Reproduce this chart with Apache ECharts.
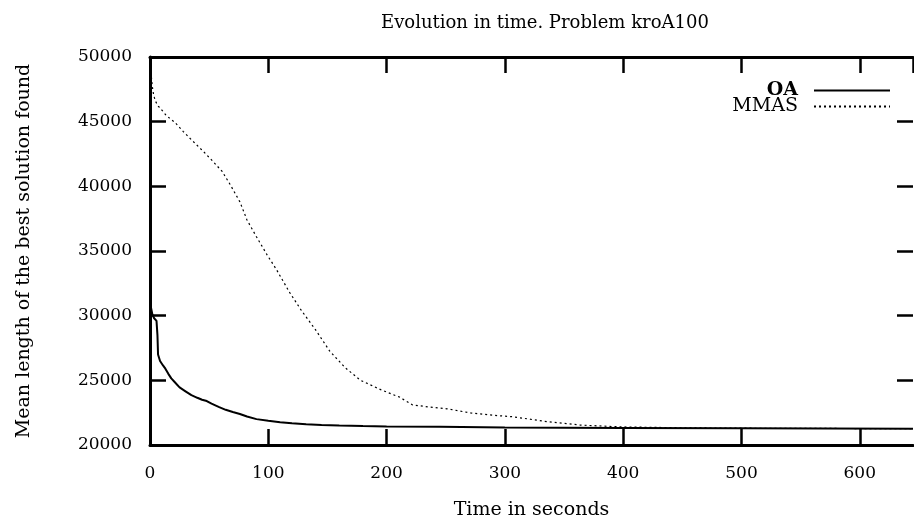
<!DOCTYPE html>
<html>
<head>
<meta charset="utf-8">
<script src="https://cdn.jsdelivr.net/npm/echarts@6/dist/echarts.min.js"></script>
<style>
    html, body { margin: 0; padding: 0; background: #fff; }
    #chart1 { width: 914px; height: 525px; }
</style>
</head>
<body>
<div id="chart1"></div>
<script>
/* kroA100 evolution chart */

var seriesNames = ['OA', 'MMAS'];

// [time in seconds, mean best length]
var oaData = [
    [0, 31000], [2, 30100], [3.5, 29800], [5.5, 29600], [6.3, 28500], [6.8, 27000],
    [8.5, 26500], [11, 26150], [13, 25900], [15.5, 25500], [18, 25150], [21, 24850],
    [25, 24450], [30, 24150], [35, 23850], [40, 23650], [44, 23500], [48, 23400],
    [52, 23200], [58, 22950], [64, 22720], [70, 22550], [76, 22400], [82, 22200],
    [90, 22000], [100, 21870], [110, 21760], [120, 21680], [132, 21610], [145, 21540],
    [160, 21500], [180, 21460], [200, 21440], [245, 21410], [300, 21360], [400, 21320],
    [500, 21290], [645, 21260]
];

var mmasData = [
    [0, 49600], [1, 48600], [2, 47700], [3, 47100], [4.5, 46600], [7, 46200],
    [10, 45900], [14, 45450], [21, 44950], [28, 44250], [35, 43600], [44, 42800],
    [52, 42050], [61, 41150], [68, 40100], [76, 38800], [82, 37400], [90, 36100],
    [99, 34700], [107, 33550], [118, 31800], [128, 30400], [140, 28900], [152, 27250],
    [165, 25980], [178, 25000], [195, 24280], [211, 23700], [222, 23100], [235, 22950],
    [251, 22800], [271, 22480], [290, 22300], [307, 22180], [336, 21800], [364, 21540],
    [398, 21400], [450, 21330], [500, 21300], [645, 21260]
];

var xMin = 0, xMax = 645, xStep = 100;
var yMin = 20000, yMax = 50000, yStep = 5000;

var font = 'DejaVu Serif';

var Lchart = echarts.init(document.getElementById('chart1'));

function frameAxis(pos, showLabel, extra) {
    var ax = {
        type: 'value',
        position: pos,
        axisLine: { show: true, onZero: false, lineStyle: { color: '#000', width: 3 } },
        axisTick: { show: true, inside: true, length: 16, lineStyle: { color: '#000', width: 2.5 } },
        axisLabel: {
            show: showLabel, color: '#000', fontFamily: font, fontSize: 17, margin: 20,
            formatter: function (v) { return String(v); }
        },
        splitLine: { show: false }
    };
    for (var k in extra) ax[k] = extra[k];
    return ax;
}

var Loption = {
    animation: false,
    backgroundColor: '#fff',
    title: {
        text: 'Evolution in time. Problem kroA100',
        left: 376,
        top: 9,
        textStyle: { fontFamily: font, fontSize: 18, fontWeight: 'normal', color: '#000' }
    },
    legend: {
        right: 18,
        top: 76,
        orient: 'vertical',
        align: 'right',
        itemGap: -3,
        itemWidth: 76,
        itemHeight: 12,
        itemStyle: { opacity: 0 },
        textStyle: { fontFamily: font, fontSize: 19, color: '#000', padding: [0, 11, 0, 0] },
        data: [
            { name: seriesNames[0], textStyle: { fontWeight: 'bold' } },
            { name: seriesNames[1] }
        ]
    },
    grid: { left: 150, top: 57, right: 1, bottom: 73 },
    xAxis: [
        frameAxis('bottom', true, {
            min: xMin, max: xMax, interval: xStep,
            name: 'Time in seconds',
            nameLocation: 'middle',
            nameGap: 56,
            nameTextStyle: { fontFamily: font, fontSize: 19, color: '#000' }
        }),
        frameAxis('top', false, { min: xMin, max: xMax, interval: xStep })
    ],
    yAxis: [
        frameAxis('left', true, {
            min: yMin, max: yMax, interval: yStep,
            name: 'Mean length of the best solution found',
            nameLocation: 'middle',
            nameGap: 116,
            nameTextStyle: { fontFamily: font, fontSize: 19, color: '#000' }
        }),
        frameAxis('right', false, { min: yMin, max: yMax, interval: yStep })
    ],
    series: [
        {
            name: seriesNames[0],
            type: 'line',
            data: oaData,
            showSymbol: false,
            symbol: 'none',
            lineStyle: { color: '#000', width: 2, type: 'solid' },
            itemStyle: { color: '#000' }
        },
        {
            name: seriesNames[1],
            type: 'line',
            data: mmasData,
            showSymbol: false,
            symbol: 'none',
            lineStyle: { color: '#000', width: 1.2, type: [2, 3] },
            itemStyle: { color: '#000' }
        }
    ]
};

Loption.xAxis[0].axisLabel.showMaxLabel = false;
Loption.yAxis[0].axisLabel.margin = 18;
Loption.yAxis[1].axisLine.show = false;

Lchart.setOption(Loption);
</script>
</body>
</html>
